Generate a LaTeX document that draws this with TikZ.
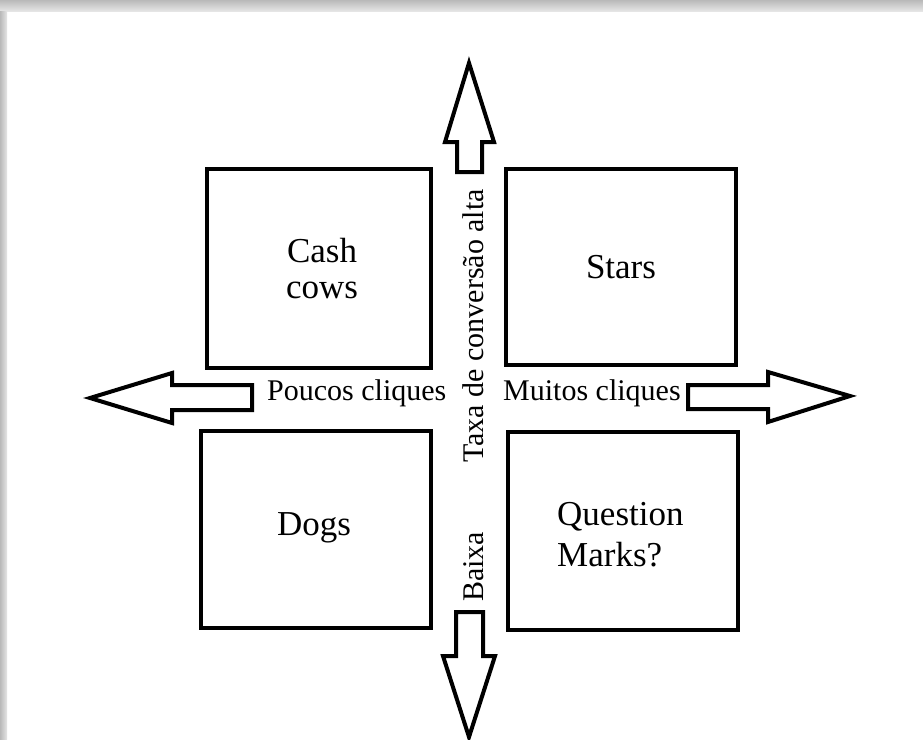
\documentclass[tikz,border=0pt]{standalone}
\usepackage{fontspec}
\setmainfont{Liberation Serif}
\begin{document}
\begin{tikzpicture}[x=1pt,y=-1pt,
  quad/.style={draw=black,line width=4pt,line join=miter},
  fatarrow/.style={draw=black,fill=white,line width=4pt,line join=miter},
  bigtxt/.style={inner sep=0pt,font=\fontsize{35}{37}\selectfont},
  smalltxt/.style={inner sep=0pt,font=\fontsize{30}{32}\selectfont}]
\useasboundingbox (0,0) rectangle (923,739);
\fill[white] (0,0) rectangle (923,739);
% shadow frame
\shade[top color=gray!55,bottom color=gray!20] (0,0) rectangle (923,11);
\shade[left color=gray!55,right color=gray!20] (0,11) rectangle (7,739);
% boxes
\draw[quad] (207,169) rectangle (431,368) coordinate (cashbox);
\draw[quad] (506,169) rectangle (736,365) coordinate (starbox);
\draw[quad] (201,431) rectangle (431,628) coordinate (dogbox);
\draw[quad] (508,432) rectangle (738,630) coordinate (qbox);
% arrows
\draw[fatarrow] (457,172) -- (457,142) -- (445,142) -- (469,63) -- (494,142) -- (482,142) -- (482,172) -- cycle;
\draw[fatarrow] (252,385) -- (172,385) -- (172,373) -- (90,398) -- (172,423) -- (172,410) -- (252,410) -- cycle;
\draw[fatarrow] (688,385) -- (768,385) -- (768,372) -- (850,396) -- (768,422) -- (768,409) -- (688,409) -- cycle;
\draw[fatarrow] (456,612) -- (483,612) -- (483,656) -- (495,656) -- (469,737) -- (443,656) -- (456,656) -- cycle;
% texts
\node[bigtxt,anchor=base] (cash) at (322,262) {Cash};
\node[bigtxt,anchor=base] (cows) at (322,298) {cows};
\node[bigtxt,anchor=base] (stars) at (621,278) {Stars};
\node[bigtxt,anchor=base] (dogs) at (314,535) {Dogs};
\node[bigtxt,anchor=base west] (question) at (557,525) {Question};
\node[bigtxt,anchor=base west] (marks) at (557,566) {Marks?};
\node[smalltxt,anchor=base west] (poucos) at (267,400) {Poucos cliques};
\node[smalltxt,anchor=base west] (muitos) at (503,400) {Muitos cliques};
\node[smalltxt,anchor=base west,rotate=90] (taxa) at (483,463) {Taxa de conversão alta};
\node[smalltxt,anchor=base west,rotate=90] (baixa) at (483,602) {Baixa};
\end{tikzpicture}
\end{document}
